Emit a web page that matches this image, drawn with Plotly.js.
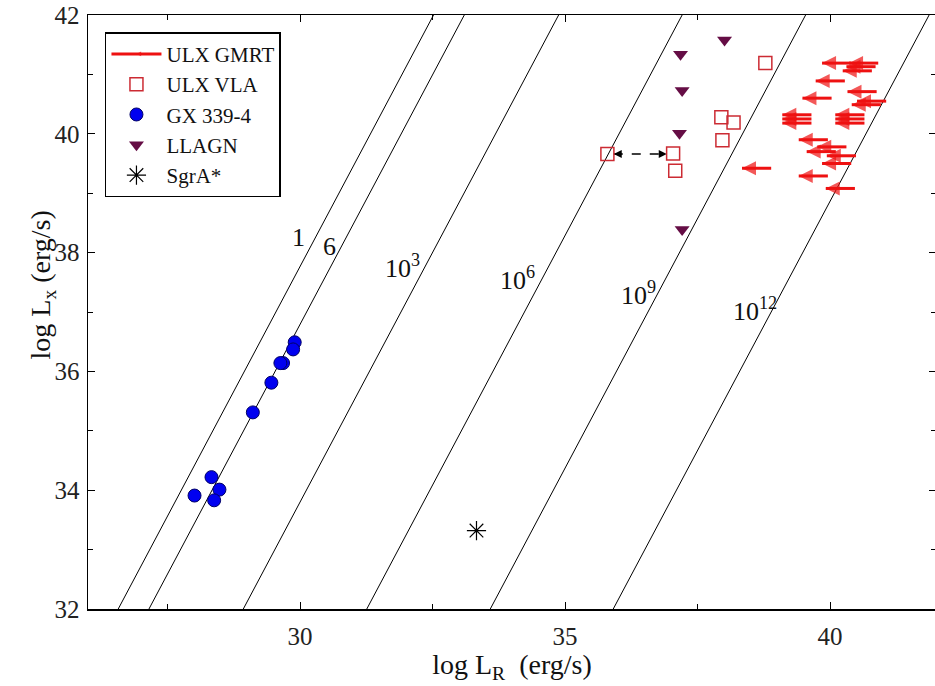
<!DOCTYPE html>
<html><head><meta charset="utf-8">
<script src="https://cdn.plot.ly/plotly-3.0.1.min.js"></script>
<style>html,body{margin:0;padding:0;overflow:hidden;background:#fff}#chart{width:937px;height:686px}</style>
</head><body><div id="chart"></div>
<script>
// ---- data (log L_R, log L_X in erg/s) ----
const gxLR = [29.90, 29.87, 29.68, 29.63, 29.46, 29.11, 28.33, 28.01, 28.48, 28.38];
const gxLX = [36.49, 36.37, 36.14, 36.14, 35.81, 35.31, 34.22, 33.91, 34.01, 33.83];

const llagnLR = [38.01, 37.18, 37.21, 37.16, 37.21];
const llagnLX = [41.58, 41.34, 40.73, 40.01, 38.39];

const vlaLR = [35.80, 37.04, 37.08, 37.95, 38.18, 37.97, 38.78];
const vlaLX = [39.66, 39.67, 39.38, 40.28, 40.19, 39.89, 41.19];

const sgrLR = [33.33];
const sgrLX = [33.32];

// ULX GMRT upper limits on log L_R
const gmrtLR = [40.91, 40.40, 40.86, 40.79, 40.28, 40.88, 40.03, 41.06, 40.96,
                39.65, 39.65, 39.65, 40.65, 40.65, 40.65,
                39.96, 40.31, 40.11, 40.49, 40.40, 39.96, 40.47, 38.89];
const gmrtLX = [41.19, 41.19, 41.13, 41.06, 40.89, 40.71, 40.60, 40.55, 40.49,
                40.32, 40.25, 40.18, 40.32, 40.25, 40.18,
                39.90, 39.78, 39.70, 39.63, 39.50, 39.29, 39.08, 39.42];

// mass lines of the fundamental plane: log L_R where they cross log L_X = 32 and 42
const massLabels = ['1', '6', '10<sup>3</sup>', '10<sup>6</sup>', '10<sup>9</sup>', '10<sup>12</sup>'];
const lineLRlow  = [26.57, 27.15, 28.93, 31.26, 33.59, 35.91];
const lineLRhigh = [32.52, 33.10, 34.88, 37.21, 39.54, 41.87];
const lineLXends = [32, 42];

// ---- layout helpers (positions, styles) ----
const labelPos = [[29.98, 38.26], [30.56, 38.10], [31.94, 37.76], [34.11, 37.57], [36.39, 37.31], [38.58, 37.04]];
const arrowLen = 0.55;
const serif = 'Liberation Serif, Times New Roman, serif';

const lx = [], ly = [];
for (let i = 0; i < lineLRlow.length; i++) {
  lx.push(lineLRlow[i], lineLRhigh[i], null);
  ly.push(lineLXends[0], lineLXends[1], null);
}

// GMRT upper-limit arrows: head (pointing to lower L_R) first, then the tail at the limit
const gx = [], gy = [], gsz = [];
for (let i = 0; i < gmrtLR.length; i++) {
  gx.push(gmrtLR[i] - arrowLen, gmrtLR[i], null);
  gy.push(gmrtLX[i], gmrtLX[i], null);
  gsz.push(14, 0, 0);
}

// dashed double arrow linking the two VLA measurements of one source
const dA = vlaLR[0] + 0.12, dB = vlaLR[1] - 0.12, dY = vlaLX[0];

const traces = [
  {x: lx, y: ly, mode: 'lines', line: {color: '#000', width: 1}, showlegend: false, hoverinfo: 'skip'},
  {x: gx, y: gy, name: 'ULX GMRT', mode: 'lines+markers', connectgaps: false,
   line: {color: '#ee1111', width: 3},
   marker: {symbol: 'arrow-left', size: gsz, color: '#ee1111', line: {width: 0}}},
  {x: [dA, dB], y: [dY, dY], mode: 'lines+markers', showlegend: false, hoverinfo: 'skip',
   line: {color: '#000', width: 1.3, dash: 'dash'},
   marker: {symbol: ['arrow-left', 'arrow-right'], size: 8, color: '#000'}},
  {x: vlaLR, y: vlaLX, name: 'ULX VLA', mode: 'markers',
   marker: {symbol: 'square-open', size: 13, color: '#cc2b33', line: {width: 1.5, color: '#cc2b33'}}},
  {x: gxLR, y: gxLX, name: 'GX 339-4', mode: 'markers',
   marker: {symbol: 'circle', size: 13, color: '#0000f0', line: {width: 1, color: '#000066'}}},
  {x: llagnLR, y: llagnLX, name: 'LLAGN', mode: 'markers',
   marker: {symbol: 'triangle-down', size: 13, color: '#650d45'}},
  {x: sgrLR, y: sgrLX, name: 'SgrA*', mode: 'markers',
   marker: {symbol: 'asterisk-open', size: 16, color: '#000', line: {width: 1.2, color: '#000'}}}
];

const annotations = [];
for (let i = 0; i < massLabels.length; i++) {
  annotations.push({x: labelPos[i][0], y: labelPos[i][1], xref: 'x', yref: 'y', text: massLabels[i],
    showarrow: false, font: {family: serif, size: 26, color: '#111'}});
}
// y-axis title placed like the reference (slightly above the axis middle)
annotations.push({xref: 'paper', yref: 'paper', x: -0.054, y: 0.545, textangle: -90,
  text: 'log L<sub>x</sub> (erg/s)', showarrow: false, xanchor: 'center', yanchor: 'middle',
  font: {family: serif, size: 28, color: '#111'}});

const axisCommon = {
  showline: true, linecolor: '#000', linewidth: 1.5, mirror: 'ticks',
  ticks: 'inside', ticklen: 7, tickwidth: 1, tickcolor: '#000',
  showgrid: false, zeroline: false,
  tickfont: {family: serif, size: 25, color: '#222'}
};

const layout = {
  width: 937, height: 686,
  margin: {l: 88, r: 1, t: 15, b: 77},
  paper_bgcolor: '#fff', plot_bgcolor: '#fff',
  font: {family: serif, color: '#111'},
  xaxis: Object.assign({}, axisCommon, {
    range: [26, 42], tick0: 0, dtick: 5, ticklabelstandoff: 4,
    minor: {dtick: 2.5, ticks: 'inside', ticklen: 5, tickcolor: '#000', showgrid: false},
    title: {text: 'log L<sub>R</sub>\u00a0\u00a0(erg/s)', font: {family: serif, size: 28, color: '#111'}, standoff: 2}
  }),
  yaxis: Object.assign({}, axisCommon, {
    range: [32, 42], tick0: 0, dtick: 2, ticklabelstandoff: 2,
    minor: {dtick: 1, ticks: 'inside', ticklen: 5, tickcolor: '#000', showgrid: false}
  }),
  legend: {x: 0.02, y: 0.971, xanchor: 'left', yanchor: 'top', bgcolor: '#fff',
    bordercolor: '#000', borderwidth: 1.5, itemwidth: 50,
    font: {family: serif, size: 21, color: '#111'}},
  annotations: annotations
};

Plotly.newPlot('chart', traces, layout, {displayModeBar: false, staticPlot: true});
</script>
</body></html>
